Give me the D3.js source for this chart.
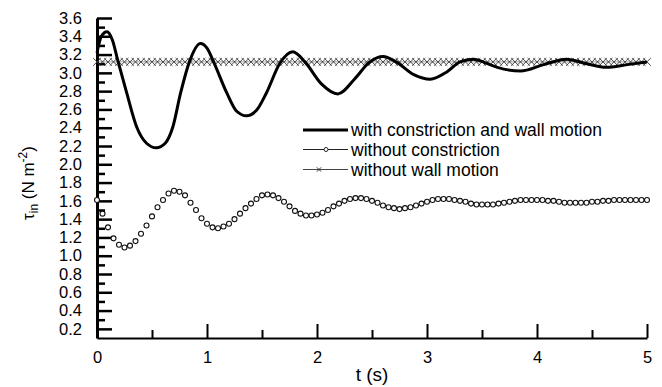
<!DOCTYPE html>
<html>
<head>
<meta charset="utf-8">
<script src="https://cdn.jsdelivr.net/npm/d3@7/dist/d3.min.js"></script>
<style>
  html, body { margin: 0; padding: 0; background: #fff; }
  svg { display: block; font-family: Arial, "Liberation Sans", sans-serif; }
</style>
</head>
<body>
<svg id="chart" width="662" height="387"></svg>
<script>
// thick curve: with constriction and wall motion (t, tau)
const wallT = [0.00, 0.04, 0.09, 0.14, 0.19, 0.27, 0.36, 0.45, 0.54, 0.62, 0.69, 0.76, 0.84, 0.94, 1.00, 1.06,
  1.18, 1.27, 1.36, 1.45, 1.54, 1.66, 1.78, 1.89, 2.04, 2.19, 2.34, 2.48, 2.60, 2.72, 2.88, 3.03,
  3.18, 3.30, 3.42, 3.53, 3.64, 3.85, 4.06, 4.27, 4.45, 4.63, 4.82, 5.00];
const wallV = [3.22, 3.40, 3.45, 3.36, 3.13, 2.78, 2.41, 2.23, 2.18, 2.23, 2.41, 2.78, 3.12, 3.32, 3.27, 3.12,
  2.78, 2.58, 2.53, 2.59, 2.78, 3.10, 3.23, 3.12, 2.88, 2.77, 2.93, 3.12, 3.18, 3.12, 2.98, 2.93,
  3.01, 3.12, 3.15, 3.11, 3.06, 3.02, 3.09, 3.15, 3.10, 3.06, 3.09, 3.12];

// marker series, sampled every 0.05 s
const sampleT = d3.range(0, 101).map(i => i * 0.05);
const noConstrV = [
  1.61, 1.46, 1.31, 1.19, 1.12, 1.09, 1.11, 1.16, 1.24, 1.33,
  1.43, 1.53, 1.61, 1.68, 1.71, 1.70, 1.66, 1.58, 1.50, 1.41,
  1.35, 1.31, 1.30, 1.32, 1.35, 1.40, 1.46, 1.52, 1.57, 1.62,
  1.66, 1.67, 1.66, 1.63, 1.59, 1.54, 1.49, 1.46, 1.44, 1.44,
  1.45, 1.47, 1.50, 1.54, 1.57, 1.60, 1.62, 1.63, 1.63, 1.62,
  1.60, 1.58, 1.55, 1.53, 1.52, 1.51, 1.52, 1.53, 1.55, 1.57,
  1.59, 1.61, 1.62, 1.62, 1.62, 1.61, 1.60, 1.59, 1.57, 1.56,
  1.56, 1.56, 1.56, 1.57, 1.58, 1.59, 1.60, 1.61, 1.61, 1.61,
  1.61, 1.61, 1.60, 1.60, 1.59, 1.58, 1.58, 1.58, 1.58, 1.58,
  1.59, 1.59, 1.60, 1.60, 1.61, 1.61, 1.61, 1.61, 1.61, 1.61,
  1.61];
const noWallV = [
  3.12, 3.12, 3.12, 3.12, 3.12, 3.12, 3.12, 3.12, 3.12, 3.12,
  3.12, 3.12, 3.12, 3.12, 3.12, 3.12, 3.12, 3.12, 3.12, 3.12,
  3.12, 3.12, 3.12, 3.12, 3.12, 3.12, 3.12, 3.12, 3.12, 3.12,
  3.12, 3.12, 3.12, 3.12, 3.12, 3.12, 3.12, 3.12, 3.12, 3.12,
  3.12, 3.12, 3.12, 3.12, 3.12, 3.12, 3.12, 3.12, 3.12, 3.12,
  3.12, 3.12, 3.12, 3.12, 3.12, 3.12, 3.12, 3.12, 3.12, 3.12,
  3.12, 3.12, 3.12, 3.12, 3.12, 3.12, 3.12, 3.12, 3.12, 3.12,
  3.12, 3.12, 3.12, 3.12, 3.12, 3.12, 3.12, 3.12, 3.12, 3.12,
  3.12, 3.12, 3.12, 3.12, 3.12, 3.12, 3.12, 3.12, 3.12, 3.12,
  3.12, 3.12, 3.12, 3.12, 3.12, 3.12, 3.12, 3.12, 3.12, 3.12,
  3.12];

// ticks
const yMajor = [0.2, 0.4, 0.6, 0.8, 1.0, 1.2, 1.4, 1.6, 1.8, 2.0, 2.2, 2.4, 2.6, 2.8, 3.0, 3.2, 3.4, 3.6];
const yMinor = [0.3, 0.5, 0.7, 0.9, 1.1, 1.3, 1.5, 1.7, 1.9, 2.1, 2.3, 2.5, 2.7, 2.9, 3.1, 3.3, 3.5];
const xMajor = [0, 1, 2, 3, 4, 5];
const xMinor = [0.5, 1.5, 2.5, 3.5, 4.5];

const legendLabels = ['with constriction and wall motion', 'without constriction', 'without wall motion'];

const svg = d3.select('#chart');
const x = d3.scaleLinear().domain([0, 5]).range([97, 647]);
const y = d3.scaleLinear().domain([0.1, 3.6]).range([338, 18]);

// axes
const yAxis = svg.append('g').attr('transform', `translate(${x(0)},0)`)
  .call(d3.axisLeft(y).tickValues(yMajor).tickSizeInner(-15).tickSizeOuter(0)
    .tickPadding(15).tickFormat(d3.format('.1f')));
yAxis.select('.domain').attr('stroke-width', 3);
yAxis.selectAll('.tick line').attr('stroke-width', 2.5);
yAxis.selectAll('.tick text').attr('font-size', 16.5).attr('fill', '#000');

const yMinorAxis = svg.append('g').attr('transform', `translate(${x(0)},0)`)
  .call(d3.axisLeft(y).tickValues(yMinor).tickSizeInner(-8).tickSizeOuter(0).tickFormat(''));
yMinorAxis.select('.domain').remove();
yMinorAxis.selectAll('.tick line').attr('stroke-width', 2.5);

const xAxis = svg.append('g').attr('transform', `translate(0,${y(0.1)})`)
  .call(d3.axisBottom(x).tickValues(xMajor).tickSizeInner(-14).tickSizeOuter(0)
    .tickPadding(13).tickFormat(d3.format('d')));
xAxis.select('.domain').attr('stroke-width', 2);
xAxis.selectAll('.tick line').attr('stroke-width', 2);
xAxis.selectAll('.tick text').attr('font-size', 16.5).attr('fill', '#000');

const xMinorAxis = svg.append('g').attr('transform', `translate(0,${y(0.1)})`)
  .call(d3.axisBottom(x).tickValues(xMinor).tickSizeInner(-8).tickSizeOuter(0).tickFormat(''));
xMinorAxis.select('.domain').remove();
xMinorAxis.selectAll('.tick line').attr('stroke-width', 2);

// axis titles
svg.append('text')
  .attr('x', 372).attr('y', 381)
  .attr('text-anchor', 'middle')
  .attr('font-size', 19)
  .text('t (s)');

const yTitle = svg.append('text')
  .attr('transform', 'translate(34,183) rotate(-90)')
  .attr('text-anchor', 'middle')
  .attr('font-size', 17);
yTitle.append('tspan').text('τ');
yTitle.append('tspan').attr('font-size', 12).attr('dy', 4).text('in');
yTitle.append('tspan').attr('dy', -4).text(' (N m');
yTitle.append('tspan').attr('font-size', 12).attr('dy', -7).text('-2');
yTitle.append('tspan').attr('dy', 7).text(')');

// without wall motion: thin line with x markers
const noWall = sampleT.map((t, i) => [t, noWallV[i]]);
svg.append('path')
  .datum(noWall)
  .attr('fill', 'none')
  .attr('stroke', '#666')
  .attr('stroke-width', 0.6)
  .attr('d', d3.line().x(d => x(d[0])).y(d => y(d[1])));
const cross = d3.symbol().type(d3.symbolX).size(40);
svg.append('g').selectAll('path')
  .data(noWall)
  .join('path')
  .attr('transform', d => `translate(${x(d[0])},${y(d[1])})`)
  .attr('d', cross)
  .attr('fill', 'none')
  .attr('stroke', '#333')
  .attr('stroke-width', 0.9);

// without constriction: open circles
const noConstr = sampleT.map((t, i) => [t, noConstrV[i]]);
svg.append('g').selectAll('circle')
  .data(noConstr)
  .join('circle')
  .attr('cx', d => x(d[0]))
  .attr('cy', d => y(d[1]))
  .attr('r', 2.5)
  .attr('fill', '#fff')
  .attr('stroke', '#111')
  .attr('stroke-width', 1.1);

// with constriction and wall motion: thick line
const wall = wallT.map((t, i) => [t, wallV[i]]);
svg.append('path')
  .datum(wall)
  .attr('fill', 'none')
  .attr('stroke', '#000')
  .attr('stroke-width', 3)
  .attr('d', d3.line().x(d => x(d[0])).y(d => y(d[1])).curve(d3.curveMonotoneX));

// legend
const legend = svg.append('g');
const rowY = [130, 149.5, 169.5];
const lx0 = 303, lx1 = 348;

legend.append('line').attr('x1', lx0).attr('x2', lx1).attr('y1', rowY[0]).attr('y2', rowY[0])
  .attr('stroke', '#000').attr('stroke-width', 3);
legend.append('line').attr('x1', lx0).attr('x2', lx1).attr('y1', rowY[1]).attr('y2', rowY[1])
  .attr('stroke', '#222').attr('stroke-width', 1);
legend.append('circle').attr('cx', 326).attr('cy', rowY[1]).attr('r', 2)
  .attr('fill', '#fff').attr('stroke', '#222').attr('stroke-width', 1);
legend.append('line').attr('x1', lx0).attr('x2', lx1).attr('y1', rowY[2]).attr('y2', rowY[2])
  .attr('stroke', '#444').attr('stroke-width', 1);
legend.append('path').attr('transform', `translate(319,${rowY[2]})`)
  .attr('d', d3.symbol().type(d3.symbolX).size(14))
  .attr('fill', 'none').attr('stroke', '#333').attr('stroke-width', 1);

legend.selectAll('text')
  .data(legendLabels)
  .join('text')
  .attr('x', 351)
  .attr('y', (d, i) => rowY[i])
  .attr('dy', '0.36em')
  .attr('font-size', 17.5)
  .text(d => d);
</script>
</body>
</html>
